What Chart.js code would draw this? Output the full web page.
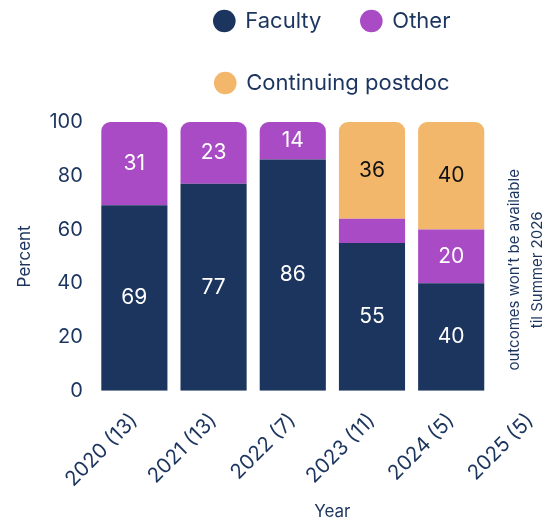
<!DOCTYPE html>
<html>
<head>
<meta charset="utf-8">
<script src="https://cdn.jsdelivr.net/npm/chart.js@4.4.1/dist/chart.umd.min.js"></script>
<style>
  html, body { margin: 0; padding: 0; background: #fff; overflow: hidden; }
  #wrap { position: relative; width: 575px; height: 552px; margin-top: -30px; }
</style>
</head>
<body>
<div id="wrap"><canvas id="chart"></canvas></div>
<script>
// data
const years = ['2020 (13)', '2021 (13)', '2022 (7)', '2023 (11)', '2024 (5)', '2025 (5)'];
const faculty = [69, 77, 86, 55, 40, null];
const other = [31, 23, 14, 9, 20, null];
const postdoc = [null, null, null, 36, 40, null];
const yTicks = [0, 20, 40, 60, 80, 100];
const noteLines = ['outcomes won\u2019t be available', 'til Summer 2026'];

const NAVY = '#1c355e';
const PURPLE = '#a94bc4';
const ORANGE = '#f3b76b';
const FONT = 'Inter, "Noto Sans", sans-serif';

// index of the dataset that sits on top of each bar
function topDataset(i) {
    if (postdoc[i]) return 2;
    if (other[i]) return 1;
    return 0;
}

// numbers inside the bar segments
const segmentLabels = {
    id: 'segmentLabels',
    afterDatasetsDraw(chart) {
        const ctx = chart.ctx;
        ctx.save();
        ctx.font = '21px ' + FONT;
        ctx.textAlign = 'center';
        ctx.textBaseline = 'middle';
        chart.data.datasets.forEach((ds, di) => {
            const meta = chart.getDatasetMeta(di);
            meta.data.forEach((bar, i) => {
                const v = ds.data[i];
                if (v == null || v < 10) return;
                ctx.fillStyle = di === 2 ? '#111111' : '#ffffff';
                ctx.fillText(String(v), bar.x, (bar.y + bar.base) / 2);
            });
        });
        ctx.restore();
    }
};

// rotated note in the empty 2025 column
const columnNote = {
    id: 'columnNote',
    afterDatasetsDraw(chart) {
        const ctx = chart.ctx;
        const x = chart.scales.x.getPixelForValue(5) - 5;
        const y = chart.scales.y.getPixelForValue(45);
        ctx.save();
        ctx.translate(x, y);
        ctx.rotate(-Math.PI / 2);
        ctx.font = '15px ' + FONT;
        ctx.fillStyle = NAVY;
        ctx.textAlign = 'center';
        ctx.textBaseline = 'middle';
        ctx.fillText(noteLines[0], 0, -11);
        ctx.fillText(noteLines[1], 0, 12);
        ctx.restore();
    }
};

// extra room between the legend and the plot
const legendGap = {
    id: 'legendGap',
    beforeInit(chart) {
        const fit = chart.legend.fit;
        chart.legend.fit = function () {
            fit.bind(chart.legend)();
            this.height += 18;
        };
    }
};

const radius = (ctx) => ctx.datasetIndex === topDataset(ctx.dataIndex)
    ? { topLeft: 9, topRight: 9, bottomLeft: 0, bottomRight: 0 } : 0;

new Chart(document.getElementById('chart'), {
    type: 'bar',
    data: {
        labels: years,
        datasets: [
            { label: 'Faculty', data: faculty, backgroundColor: NAVY, borderRadius: radius },
            { label: 'Other', data: other, backgroundColor: PURPLE, borderRadius: radius },
            { label: 'Continuing postdoc', data: postdoc, backgroundColor: ORANGE, borderRadius: radius }
        ]
    },
    options: {
        responsive: true,
        maintainAspectRatio: false,
        animation: false,
        datasets: {
            bar: { categoryPercentage: 1, barPercentage: 0.835, borderSkipped: 'start' }
        },
        layout: { padding: { left: 11, right: 5, bottom: 0 } },
        plugins: {
            tooltip: { enabled: false },
            legend: {
                position: 'top',
                fullSize: false,
                labels: {
                    usePointStyle: true,
                    pointStyle: 'circle',
                    boxWidth: 20,
                    boxHeight: 16,
                    padding: 40,
                    color: NAVY,
                    font: { family: FONT, size: 22 }
                }
            }
        },
        scales: {
            x: {
                stacked: true,
                grid: { display: false, drawTicks: false },
                border: { display: false },
                ticks: {
                    color: NAVY,
                    font: { family: FONT, size: 20.5 },
                    minRotation: 45,
                    maxRotation: 45,
                    padding: 18
                },
                title: {
                    display: true,
                    text: 'Year',
                    color: NAVY,
                    padding: { top: -8, bottom: 0 },
                    font: { family: FONT, size: 17 }
                }
            },
            y: {
                stacked: true,
                min: 0,
                max: 100,
                grid: { display: false, drawTicks: false },
                border: { display: false },
                afterBuildTicks: (axis) => { axis.ticks = yTicks.map(v => ({ value: v })); },
                ticks: {
                    color: NAVY,
                    padding: 12,
                    font: { family: FONT, size: 20 }
                },
                title: {
                    display: true,
                    text: 'Percent',
                    color: NAVY,
                    padding: { top: 4, bottom: 2 },
                    font: { family: FONT, size: 17 }
                }
            }
        }
    },
    plugins: [segmentLabels, columnNote, legendGap]
});
</script>
</body>
</html>
